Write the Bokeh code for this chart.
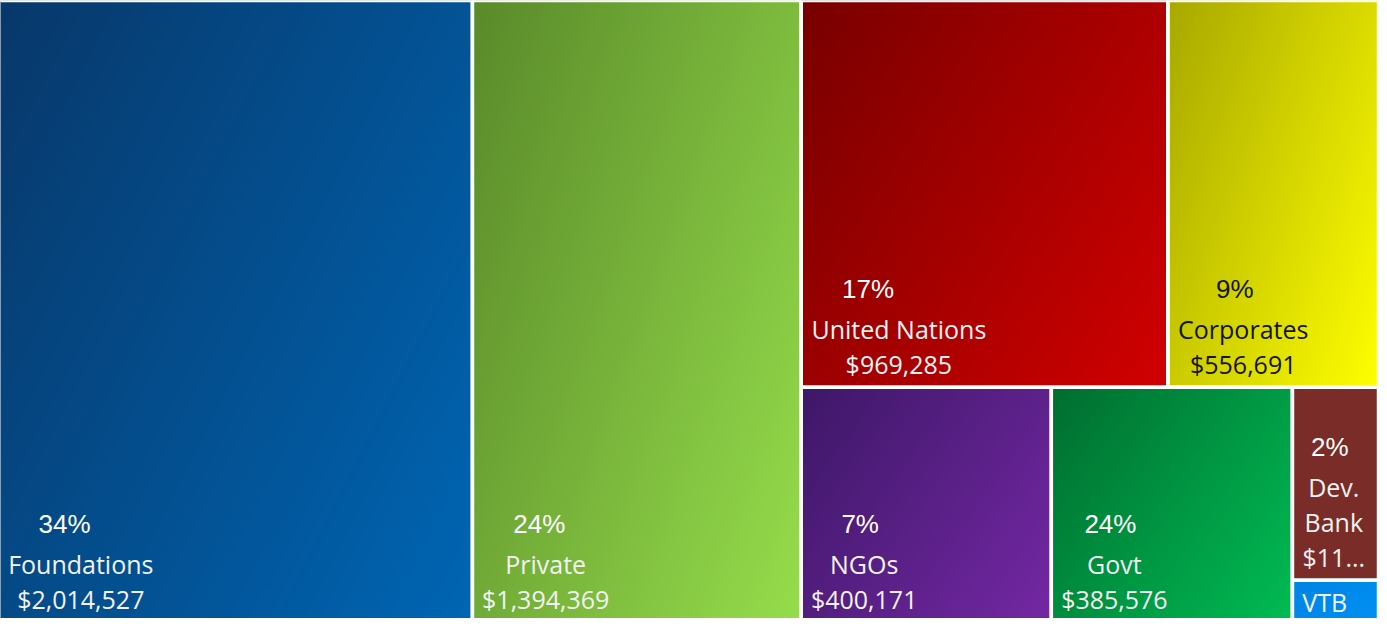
import numpy as np
from bokeh.plotting import figure
from bokeh.models import Range1d
from bokeh.core.properties import value
from bokeh.embed import file_html
from bokeh.resources import INLINE

# ---- data ----
categories = ["Foundations", "Private", "United Nations", "Corporates",
              "NGOs", "Govt", "Dev. Bank", "VTB"]
amounts = [2014527, 1394369, 969285, 556691, 400171, 385576, 113450, 24300]
pct_labels = ["34%", "24%", "17%", "9%", "7%", "24%", "2%", ""]

# ---- style ----
start_colors = ["#08386a", "#5a8a2a", "#780000", "#a8a800",
                "#3e1868", "#006e30", "#7a2c28", "#0084e4"]
end_colors = ["#0066b4", "#96de4c", "#d20000", "#ffff00",
              "#7428a4", "#00bc54", "#7a2c28", "#0090f4"]
dark_text = [False, False, False, True, False, False, False, False]

W, H = 1381, 621  # treemap size in screen pixels


def squarify(vals, x, y, w, h):
    total = float(sum(vals))
    areas = [v * w * h / total for v in vals]
    rects = []

    def worst(row, side):
        s = sum(row)
        return max(max(side * side * r / (s * s), s * s / (side * side * r)) for r in row)

    rem = list(areas)
    while rem:
        side = min(w, h)
        row = [rem[0]]
        i = 1
        while i < len(rem) and worst(row + [rem[i]], side) <= worst(row, side):
            row.append(rem[i])
            i += 1
        s = sum(row)
        if w >= h:
            cw = s / h
            yy = y
            for a in row:
                rh = a / cw
                rects.append((x, yy, cw, rh))
                yy += rh
            x += cw
            w -= cw
        else:
            rh = s / w
            xx = x
            for a in row:
                rw = a / rh
                rects.append((xx, y, rw, rh))
                xx += rw
            y += rh
            h -= rh
        rem = rem[i:]
    return rects


CW = {'$': .572, ',': .245, '.': .266, ' ': .26, 'U': .733, 'N': .761, 'F': .55,
      'P': .602, 'C': .632, 'G': .725, 'D': .72, 'V': .6, 'T': .556, 'B': .648,
      'O': .78, 'i': .258, 't': .353, 'r': .408, 's': .479, 'l': .258, 'v': .5,
      'k': .508, 'e': .561, 'a': .556, 'o': .605, 'n': .612, 'd': .623, 'u': .612,
      'p': .623}


def est_width(s, size):
    tot = 0.0
    for ch in s:
        if ch.isdigit():
            tot += .572
        elif ch in CW:
            tot += CW[ch]
        elif ch.isupper():
            tot += .65
        else:
            tot += .56
    return tot * size


def hex2rgb(c):
    c = c.lstrip('#')
    return np.array([int(c[i:i + 2], 16) for i in (0, 2, 4)], dtype=float)


rects = squarify(amounts, 0.0, 0.0, W, H)

p = figure(width=1379, height=618, output_backend="svg", toolbar_location=None,
           x_range=Range1d(3, 1382), y_range=Range1d(3, 621),
           min_border=0, background_fill_color="white", border_fill_color="white")
p.axis.visible = False
p.grid.visible = False
p.outline_line_color = None

FS = 25
lab_x, lab_y, lab_t, lab_c = [], [], [], []
pct_x, pct_y, pct_t, pct_c = [], [], [], []
left_x, left_y, left_t, left_c = [], [], [], []
qx0, qx1, qy0, qy1 = [], [], [], []

for i, (x0, yt, w, h) in enumerate(rects):
    yb = H - (yt + h)
    nx, ny = max(2, int(w / 2)), max(2, int(h / 2))
    u = np.linspace(0, 1, nx)[None, :]
    v = np.linspace(0, 1, ny)[:, None]
    t = 0.6 * u + 0.4 * (1 - v)
    c0, c1 = hex2rgb(start_colors[i]), hex2rgb(end_colors[i])
    rgb = c0[None, None, :] + (c1 - c0)[None, None, :] * t[:, :, None]
    img = np.empty((ny, nx), dtype=np.uint32)
    view = img.view(dtype=np.uint8).reshape((ny, nx, 4))
    view[:, :, 0:3] = np.clip(rgb, 0, 255).astype(np.uint8)
    view[:, :, 3] = 255
    p.image_rgba(image=[img], x=x0, y=yb, dw=w, dh=h)
    qx0.append(x0); qx1.append(x0 + w); qy0.append(yb); qy1.append(yb + h)

    tc = "#141414" if dark_text[i] else "#f2f2f2"
    pc = "#141414" if dark_text[i] else "#ffffff"
    avail = w - 20
    name = categories[i]
    if h < 100:
        left_x.append(x0 + 10); left_y.append(H - (yt + 22))
        left_t.append(name); left_c.append(tc)
        continue
    if est_width(name, FS) <= avail:
        lines = [name]
    else:
        lines = name.split(" ")
    val = "${:,}".format(amounts[i])
    if est_width(val, FS) > avail:
        k = len(val)
        while k > 1 and est_width(val[:k] + "...", FS) > avail:
            k -= 1
        val = val[:k] + "..."
    maxw = max(est_width(s, FS) for s in lines + [val])
    cx = x0 + 10 + maxw / 2
    bottom = yt + h
    vy = bottom - 23
    lab_x.append(cx); lab_y.append(H - vy); lab_t.append(val); lab_c.append(tc)
    n = len(lines)
    first_y = None
    for k, s in enumerate(lines):
        ly = vy - 35 * (n - k)
        if first_y is None:
            first_y = ly
        lab_x.append(cx); lab_y.append(H - ly); lab_t.append(s); lab_c.append(tc)
    if pct_labels[i]:
        pct_x.append(x0 + min(67, 10 + maxw / 2 - 4))
        pct_y.append(H - (first_y - 40))
        pct_t.append(pct_labels[i]); pct_c.append(pc)

p.quad(left=qx0, right=qx1, bottom=qy0, top=qy1, fill_alpha=0,
       line_color="white", line_width=3.5)

p.text(x=lab_x, y=lab_y, text=lab_t, text_color=lab_c,
       text_font=value("Open Sans"), text_font_size=value("25px"),
       text_align="center", text_baseline="middle")
p.text(x=pct_x, y=pct_y, text=pct_t, text_color=pct_c,
       text_font=value("Liberation Sans"), text_font_size=value("26px"),
       text_align="center", text_baseline="middle")
p.text(x=left_x, y=left_y, text=left_t, text_color=left_c,
       text_font=value("Open Sans"), text_font_size=value("25px"),
       text_align="left", text_baseline="middle")

open("out.html", "w").write(file_html(p, INLINE))
